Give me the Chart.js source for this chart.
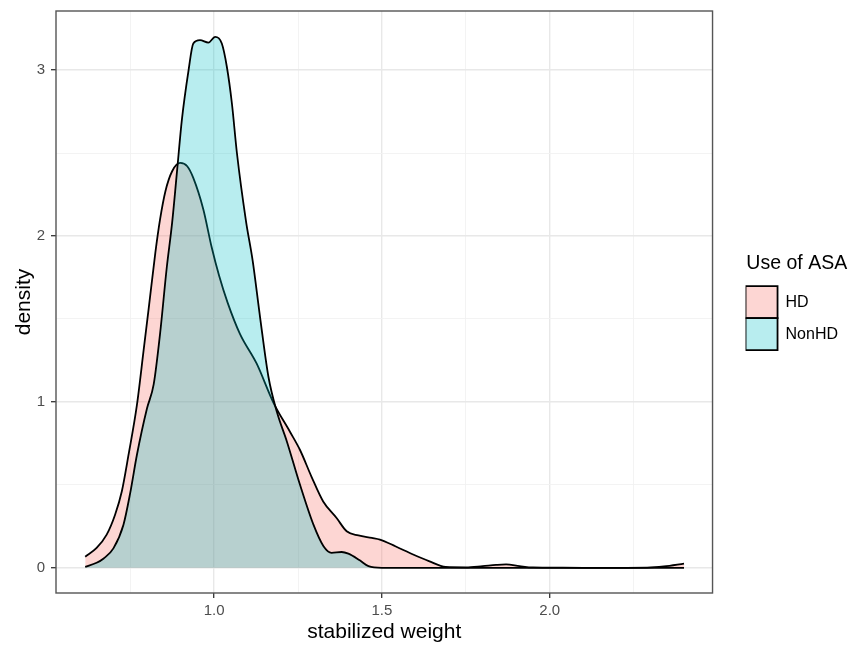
<!DOCTYPE html>
<html>
<head>
<meta charset="utf-8">
<script src="https://cdn.jsdelivr.net/npm/chart.js@4.4.1/dist/chart.umd.min.js"></script>
<style>
html, body { margin: 0; padding: 0; background: #fff; }
#wrap { width: 857px; height: 645px; position: relative; }
</style>
</head>
<body>
<div id="wrap"><canvas id="densityChart"></canvas></div>
<script>
// density estimates
var hdX = [0.616, 0.65, 0.68, 0.705, 0.725, 0.745, 0.77, 0.79, 0.805, 0.825, 0.839, 0.855, 0.875, 0.899, 0.92, 0.938, 0.968, 0.993, 1.015, 1.04, 1.077, 1.127, 1.177, 1.226, 1.256, 1.29, 1.325, 1.365, 1.395, 1.43, 1.47, 1.494, 1.54, 1.593, 1.64, 1.69, 1.75, 1.80, 1.84, 1.87, 1.91, 1.95, 2.0, 2.1, 2.2, 2.29, 2.34, 2.40];
var hdY = [0.067, 0.12, 0.20, 0.32, 0.46, 0.68, 0.98, 1.31, 1.56, 1.90, 2.10, 2.27, 2.39, 2.44, 2.42, 2.35, 2.16, 1.93, 1.76, 1.60, 1.41, 1.23, 0.994, 0.82, 0.71, 0.55, 0.40, 0.30, 0.22, 0.195, 0.18, 0.17, 0.13, 0.08, 0.04, 0.005, 0.003, 0.010, 0.017, 0.02, 0.01, 0.002, 0.001, 0.0, 0.0, 0.001, 0.008, 0.025];

var nonhdX = [0.616, 0.65, 0.671, 0.70, 0.73, 0.75, 0.77, 0.80, 0.82, 0.839, 0.859, 0.875, 0.89, 0.904, 0.924, 0.938, 0.958, 0.983, 1.003, 1.023, 1.038, 1.053, 1.068, 1.095, 1.115, 1.137, 1.162, 1.187, 1.217, 1.256, 1.296, 1.326, 1.35, 1.38, 1.40, 1.434, 1.46, 1.50, 1.7, 2.0, 2.2, 2.40];
var nonhdY = [0.006, 0.03, 0.056, 0.117, 0.26, 0.45, 0.68, 0.96, 1.105, 1.41, 1.81, 2.08, 2.40, 2.70, 3.0, 3.16, 3.18, 3.165, 3.20, 3.16, 3.02, 2.80, 2.50, 2.09, 1.85, 1.51, 1.15, 0.94, 0.76, 0.50, 0.26, 0.13, 0.09, 0.095, 0.085, 0.045, 0.01, 0.0, 0.0, 0.0, 0.0, 0.0];

var groupNames = ['HD', 'NonHD'];
var xMajor = [1.0, 1.5, 2.0];
var yMajor = [0, 1, 2, 3];

var FONT = 'Liberation Sans';

function toPoints(xs, ys) {
    return xs.map(function (x, i) { return { x: x, y: ys[i] }; });
}
function isIn(list, v) {
    return list.some(function (m) { return Math.abs(m - v) < 1e-6; });
}

// ggplot style panel border around the plot area
var panelBorder = {
    id: 'panelBorder',
    afterDatasetsDraw: function (chart) {
        var a = chart.chartArea, c = chart.ctx;
        c.save();
        c.strokeStyle = '#555555';
        c.lineWidth = 1.4;
        c.strokeRect(a.left, a.top, a.right - a.left, a.bottom - a.top);
        c.restore();
    }
};

function gridFor(major) {
    return {
        color: function (c) { return isIn(major, c.tick.value) ? '#e8e8e8' : '#f2f2f2'; },
        lineWidth: function (c) { return isIn(major, c.tick.value) ? 1.4 : 0.9; },
        tickColor: function (c) { return isIn(major, c.tick.value) ? '#333333' : 'rgba(0,0,0,0)'; },
        tickWidth: 1.3,
        tickLength: 5
    };
}

new Chart(document.getElementById('densityChart'), {
    type: 'line',
    data: {
        datasets: [
            {
                label: groupNames[1],
                data: toPoints(nonhdX, nonhdY),
                fill: 'origin',
                backgroundColor: 'rgba(0, 191, 196, 0.28)',
                borderColor: '#000000',
                borderWidth: 1.8,
                pointRadius: 0,
                cubicInterpolationMode: 'monotone'
            },
            {
                label: groupNames[0],
                data: toPoints(hdX, hdY),
                fill: 'origin',
                backgroundColor: 'rgba(248, 118, 109, 0.3)',
                borderColor: '#000000',
                borderWidth: 1.8,
                pointRadius: 0,
                cubicInterpolationMode: 'monotone'
            }
        ]
    },
    options: {
        responsive: true,
        maintainAspectRatio: false,
        animation: false,
        layout: { padding: { left: 0, top: 11, right: 9, bottom: 0 } },
        plugins: {
            tooltip: { enabled: false },
            legend: {
                position: 'right',
                fullSize: false,
                reverse: true,
                title: {
                    display: true,
                    text: 'Use of ASA',
                    color: '#000',
                    font: { family: FONT, size: 19.5 },
                    padding: { top: 0, bottom: 9 }
                },
                labels: {
                    boxWidth: 32,
                    boxHeight: 32,
                    padding: 0,
                    color: '#000',
                    font: { family: FONT, size: 16 }
                }
            }
        },
        scales: {
            x: {
                type: 'linear',
                min: 0.529,
                max: 2.485,
                border: { display: false },
                grid: gridFor(xMajor),
                afterFit: function (s) { s.height = 52; s.paddingLeft = 0; s.paddingRight = 0; },
                ticks: {
                    stepSize: 0.25,
                    includeBounds: false,
                    autoSkip: false,
                    maxRotation: 0,
                    padding: 4,
                    color: '#4d4d4d',
                    font: { family: FONT, size: 15 },
                    callback: function (v) { return isIn(xMajor, v) ? v.toFixed(1) : ''; }
                },
                title: {
                    display: true,
                    text: 'stabilized weight',
                    color: '#000',
                    font: { family: FONT, size: 21 },
                    padding: { top: 0, bottom: 0 }
                }
            },
            y: {
                min: -0.152,
                max: 3.356,
                border: { display: false },
                grid: gridFor(yMajor),
                afterFit: function (s) { s.width = 56; s.paddingTop = 0; s.paddingBottom = 0; },
                ticks: {
                    stepSize: 0.5,
                    includeBounds: false,
                    autoSkip: false,
                    padding: 6,
                    color: '#4d4d4d',
                    font: { family: FONT, size: 15 },
                    callback: function (v) { return isIn(yMajor, v) ? String(v) : ''; }
                },
                title: {
                    display: true,
                    text: 'density',
                    color: '#000',
                    font: { family: FONT, size: 21 },
                    padding: { top: 12, bottom: 0 }
                }
            },
            // empty axis that only keeps a gap between the panel and the legend
            gap: {
                type: 'linear',
                position: 'right',
                display: true,
                grid: { display: false, drawTicks: false },
                ticks: { display: false },
                border: { display: false },
                afterFit: function (s) { s.width = 33; s.paddingTop = 0; s.paddingBottom = 0; }
            }
        }
    },
    plugins: [panelBorder]
});
</script>
</body>
</html>
